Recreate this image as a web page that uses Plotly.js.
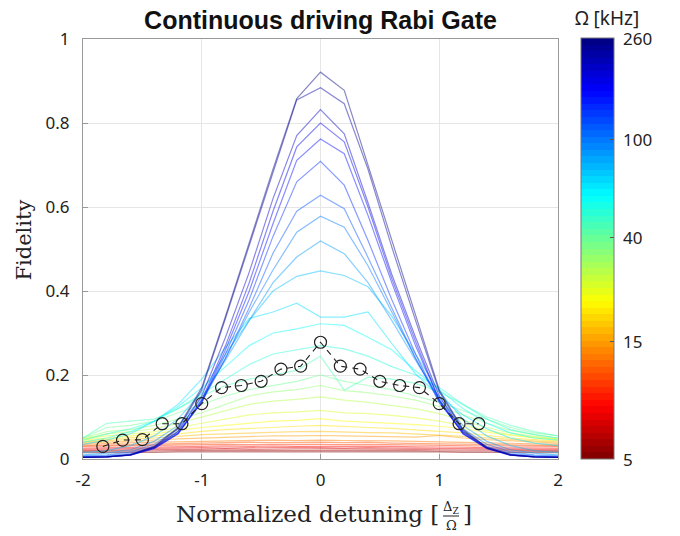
<!DOCTYPE html>
<html><head><meta charset="utf-8">
<script src="https://cdn.plot.ly/plotly-3.0.1.min.js"></script>
<style>html,body{margin:0;padding:0;background:#fff}#chart{width:680px;height:536px}</style>
</head><body><div id="chart"></div>
<script>
// ---- data ----
const detuning = [-2,-1.8,-1.6,-1.4,-1.2,-1.0,-0.8,-0.6,-0.4,-0.2,0,0.2,0.4,0.6,0.8,1.0,1.2,1.4,1.6,1.8,2];
const omegaKHz = [5.00,5.73,6.57,7.53,8.62,9.88,11.3,13.0,14.9,17.0,19.5,22.4,25.6,29.4,33.7,38.6,44.2,50.7,58.1,66.5,76.2,87.4,100,115,132,151,173,198,227,260];
const fidelity = [
 [0.015,0.015,0.016,0.016,0.017,0.017,0.017,0.018,0.018,0.018,0.018,0.018,0.018,0.017,0.017,0.017,0.016,0.016,0.016,0.015,0.015],
 [0.018,0.018,0.019,0.019,0.020,0.020,0.021,0.020,0.021,0.021,0.021,0.020,0.021,0.020,0.020,0.019,0.019,0.019,0.018,0.018,0.018],
 [0.020,0.021,0.022,0.022,0.023,0.023,0.024,0.023,0.024,0.024,0.024,0.024,0.023,0.023,0.023,0.022,0.022,0.021,0.021,0.020,0.020],
 [0.023,0.024,0.025,0.025,0.026,0.027,0.026,0.027,0.027,0.028,0.027,0.026,0.027,0.026,0.026,0.025,0.025,0.024,0.024,0.023,0.023],
 [0.026,0.027,0.028,0.029,0.030,0.030,0.031,0.030,0.031,0.030,0.030,0.031,0.030,0.030,0.029,0.029,0.028,0.027,0.027,0.026,0.026],
 [0.030,0.031,0.032,0.033,0.034,0.034,0.035,0.034,0.035,0.035,0.035,0.034,0.035,0.034,0.033,0.033,0.032,0.031,0.031,0.030,0.030],
 [0.032,0.033,0.035,0.036,0.037,0.038,0.038,0.040,0.039,0.040,0.040,0.039,0.040,0.038,0.037,0.037,0.036,0.035,0.034,0.033,0.032],
 [0.035,0.037,0.038,0.040,0.041,0.042,0.043,0.044,0.045,0.044,0.045,0.044,0.044,0.043,0.042,0.041,0.040,0.039,0.038,0.036,0.035],
 [0.038,0.040,0.042,0.045,0.048,0.050,0.052,0.054,0.055,0.055,0.056,0.055,0.054,0.053,0.052,0.056,0.050,0.046,0.043,0.040,0.038],
 [0.040,0.043,0.046,0.050,0.054,0.058,0.060,0.062,0.064,0.065,0.066,0.064,0.063,0.062,0.060,0.057,0.054,0.050,0.046,0.043,0.041],
 [0.042,0.046,0.050,0.055,0.060,0.066,0.070,0.073,0.076,0.078,0.080,0.077,0.075,0.073,0.070,0.066,0.062,0.056,0.050,0.046,0.043],
 [0.045,0.050,0.055,0.060,0.068,0.075,0.080,0.085,0.090,0.092,0.096,0.090,0.088,0.085,0.082,0.078,0.072,0.064,0.056,0.050,0.046],
 [0.048,0.055,0.060,0.065,0.075,0.085,0.095,0.105,0.110,0.112,0.116,0.110,0.108,0.104,0.098,0.090,0.080,0.068,0.058,0.052,0.048],
 [0.048,0.060,0.065,0.072,0.085,0.100,0.115,0.130,0.138,0.142,0.148,0.140,0.135,0.128,0.120,0.108,0.092,0.075,0.062,0.054,0.048],
 [0.050,0.065,0.070,0.080,0.095,0.110,0.130,0.150,0.160,0.165,0.175,0.163,0.158,0.150,0.140,0.125,0.105,0.085,0.068,0.058,0.050],
 [0.050,0.075,0.080,0.090,0.110,0.130,0.150,0.165,0.175,0.185,0.200,0.185,0.175,0.165,0.150,0.135,0.115,0.095,0.075,0.062,0.055],
 [0.050,0.085,0.090,0.095,0.120,0.150,0.175,0.190,0.200,0.211,0.245,0.164,0.195,0.190,0.180,0.160,0.130,0.100,0.080,0.065,0.055],
 [0.045,0.060,0.072,0.090,0.120,0.155,0.190,0.225,0.250,0.260,0.270,0.262,0.245,0.220,0.200,0.170,0.130,0.095,0.070,0.058,0.050],
 [0.040,0.050,0.065,0.090,0.125,0.170,0.220,0.270,0.300,0.310,0.322,0.318,0.290,0.260,0.210,0.165,0.120,0.085,0.062,0.050,0.045],
 [0.035,0.045,0.060,0.090,0.130,0.190,0.265,0.335,0.350,0.371,0.338,0.338,0.350,0.275,0.203,0.150,0.105,0.072,0.050,0.038,0.032],
 [0.015,0.020,0.032,0.055,0.095,0.160,0.250,0.330,0.400,0.435,0.448,0.437,0.410,0.340,0.250,0.160,0.095,0.055,0.032,0.020,0.015],
 [0.010,0.014,0.022,0.042,0.080,0.145,0.235,0.330,0.420,0.481,0.519,0.489,0.420,0.330,0.235,0.145,0.080,0.042,0.022,0.014,0.010],
 [0.008,0.010,0.017,0.035,0.072,0.140,0.240,0.350,0.450,0.540,0.578,0.552,0.460,0.350,0.240,0.140,0.072,0.035,0.017,0.010,0.008],
 [0.006,0.008,0.013,0.030,0.065,0.135,0.240,0.360,0.490,0.590,0.628,0.596,0.480,0.360,0.240,0.135,0.065,0.030,0.013,0.008,0.006],
 [0.005,0.006,0.011,0.027,0.062,0.135,0.250,0.380,0.530,0.660,0.709,0.652,0.520,0.380,0.250,0.135,0.062,0.027,0.011,0.006,0.005],
 [0.004,0.005,0.009,0.025,0.060,0.135,0.260,0.400,0.560,0.711,0.762,0.727,0.580,0.420,0.270,0.140,0.060,0.025,0.009,0.005,0.004],
 [0.004,0.005,0.009,0.025,0.060,0.140,0.270,0.420,0.590,0.743,0.800,0.755,0.600,0.430,0.280,0.140,0.060,0.025,0.009,0.005,0.004],
 [0.004,0.005,0.010,0.027,0.066,0.150,0.290,0.445,0.620,0.770,0.832,0.774,0.610,0.440,0.290,0.150,0.065,0.026,0.010,0.005,0.004],
 [0.004,0.005,0.010,0.028,0.072,0.165,0.335,0.510,0.685,0.855,0.884,0.846,0.690,0.505,0.330,0.160,0.068,0.027,0.009,0.005,0.004],
 [0.004,0.005,0.010,0.030,0.075,0.170,0.340,0.515,0.690,0.858,0.921,0.878,0.700,0.520,0.340,0.165,0.070,0.028,0.010,0.005,0.004]
];
const refDetuning = [-1.833,-1.667,-1.5,-1.333,-1.167,-1.0,-0.833,-0.667,-0.5,-0.333,-0.167,0,0.167,0.333,0.5,0.667,0.833,1.0,1.167,1.333];
const refFidelity = [0.030,0.045,0.046,0.084,0.084,0.132,0.170,0.175,0.185,0.214,0.221,0.278,0.221,0.214,0.185,0.175,0.170,0.132,0.084,0.084];
const colorbarTicks = [5,15,40,100,260];

// ---- colour map (MATLAB jet, reversed: high Ω blue) ----
function clamp(v){return Math.max(0,Math.min(1,v));}
function jet(t){ // t: 0 dark blue ... 1 dark red
  return [clamp(1.5-Math.abs(4*t-3)), clamp(1.5-Math.abs(4*t-2)), clamp(1.5-Math.abs(4*t-1))].map(v=>Math.round(v*255));
}
const lmin = Math.log10(omegaKHz[0]), lmax = Math.log10(omegaKHz[omegaKHz.length-1]);
function omegaColor(om, a){
  const t = 1 - (Math.log10(om)-lmin)/(lmax-lmin);
  const c = jet(t);
  return `rgba(${c[0]},${c[1]},${c[2]},${a})`;
}
const nBands = 64, cscale = [];
for(let i=0;i<nBands;i++){
  const c = jet(1 - (i+0.5)/nBands);
  const col = `rgb(${c[0]},${c[1]},${c[2]})`;
  cscale.push([i/nBands, col]); cscale.push([(i+1)/nBands, col]);
}

const traces = [];
omegaKHz.forEach((om,i)=>{
  traces.push({type:'scatter', mode:'lines', x:detuning, y:fidelity[i],
    line:{color:omegaColor(om,0.47), width:1.2}, hoverinfo:'skip', showlegend:false});
});
traces.push({type:'scatter', mode:'lines+markers', x:refDetuning, y:refFidelity,
  line:{color:'#222', width:1.1, dash:'6px,5px'},
  marker:{symbol:'circle-open', size:12, color:'#222', line:{width:1.2, color:'#222'}},
  showlegend:false});

// colour bar geometry (pixels)
const cbTop = 38, cbBottom = 459, cbLeft = 581, cbThick = 33;
const plotL = 83, plotW = 475, plotB = 459, plotH = 420;
const px2x = p => (p-plotL)/plotW, py2y = p => (plotB-p)/plotH;
traces.push({type:'scatter', mode:'markers', x:[-9,-9], y:[-9,-9], showlegend:false, hoverinfo:'skip',
  marker:{size:1, opacity:0, color:[lmin,lmax], cmin:lmin, cmax:lmax, colorscale:cscale, showscale:true,
    colorbar:{x:px2x(cbLeft), xanchor:'left', y:py2y(cbTop), yanchor:'top', len:cbBottom-cbTop, lenmode:'pixels',
      thickness:cbThick, thicknessmode:'pixels', xpad:0, ypad:0, outlinecolor:'#777', outlinewidth:1,
      tickvals:colorbarTicks.map(v=>Math.log10(v)), showticklabels:false,
      ticks:'inside', ticklen:4, tickcolor:'#555'}}});

const cbLabels = colorbarTicks.map(v=>{
  const frac = (Math.log10(v)-lmin)/(lmax-lmin);
  const py = cbBottom - frac*(cbBottom-cbTop);
  return {text:String(v), xref:'paper', yref:'paper', x:px2x(cbLeft+cbThick+7), y:py2y(py), showarrow:false,
    xanchor:'left', yanchor:'middle', font:{family:'Noto Sans', size:17, color:'#222'}};
});

const serif = 'DejaVu Serif';
const layout = {
  width:680, height:536, margin:{l:plotL, r:680-plotL-plotW, t:plotB-plotH, b:536-plotB},
  paper_bgcolor:'#fff', plot_bgcolor:'#fff',
  title:{text:'<b>Continuous driving Rabi Gate</b>', x:0.5, xref:'paper', y:0.962, yref:'container', yanchor:'middle',
    font:{family:'Liberation Sans', size:25, color:'#111'}},
  xaxis:{range:[-2,2], tickvals:[-2,-1,0,1,2], ticktext:['-2','-1','0','1','2'],
    ticks:'inside', ticklen:5, tickcolor:'#999', showgrid:true, gridcolor:'#e6e6e6', zeroline:false,
    showline:true, linecolor:'#9a9a9a', linewidth:1, mirror:true, ticklabelstandoff:6,
    tickfont:{family:'Noto Sans', size:17, color:'#222'}},
  yaxis:{range:[0,1], tickvals:[0,0.2,0.4,0.6,0.8,1], ticktext:['0','0.2','0.4','0.6','0.8','1'],
    ticks:'inside', ticklen:5, tickcolor:'#999', showgrid:true, gridcolor:'#e6e6e6', zeroline:false,
    showline:true, linecolor:'#9a9a9a', linewidth:1, mirror:true, ticklabelstandoff:9,
    tickfont:{family:'Noto Sans', size:17, color:'#222'}},
  annotations:[
    {text:'Fidelity', xref:'paper', yref:'paper', x:px2x(24), y:0.52, textangle:-90, showarrow:false,
      xanchor:'center', yanchor:'middle', font:{family:serif, size:21, color:'#222'}},
    {text:'Normalized detuning [', xref:'paper', yref:'paper', x:px2x(441), y:py2y(514), showarrow:false,
      xanchor:'right', yanchor:'middle', font:{family:serif, size:23, color:'#222'}},
    {text:'Δ<sub>Z</sub>', xref:'paper', yref:'paper', x:px2x(451), y:py2y(507), showarrow:false,
      xanchor:'center', yanchor:'middle', font:{family:serif, size:13, color:'#222'}},
    {text:'Ω', xref:'paper', yref:'paper', x:px2x(451), y:py2y(525), showarrow:false,
      xanchor:'center', yanchor:'middle', font:{family:serif, size:13, color:'#222'}},
    {text:']', xref:'paper', yref:'paper', x:px2x(461), y:py2y(514), showarrow:false,
      xanchor:'left', yanchor:'middle', font:{family:serif, size:23, color:'#222'}},
    {text:'Ω [kHz]', xref:'paper', yref:'paper', x:px2x(607), y:py2y(18), showarrow:false,
      xanchor:'center', yanchor:'middle', font:{family:'Noto Sans', size:19, color:'#222'}}
  ].concat(cbLabels),
  shapes:[
    {type:'line', xref:'paper', yref:'paper', x0:px2x(443), x1:px2x(459), y0:py2y(516), y1:py2y(516),
      line:{color:'#222', width:1}}
  ]
};
Plotly.newPlot('chart', traces, layout, {displayModeBar:false, staticPlot:true});
</script></body></html>
